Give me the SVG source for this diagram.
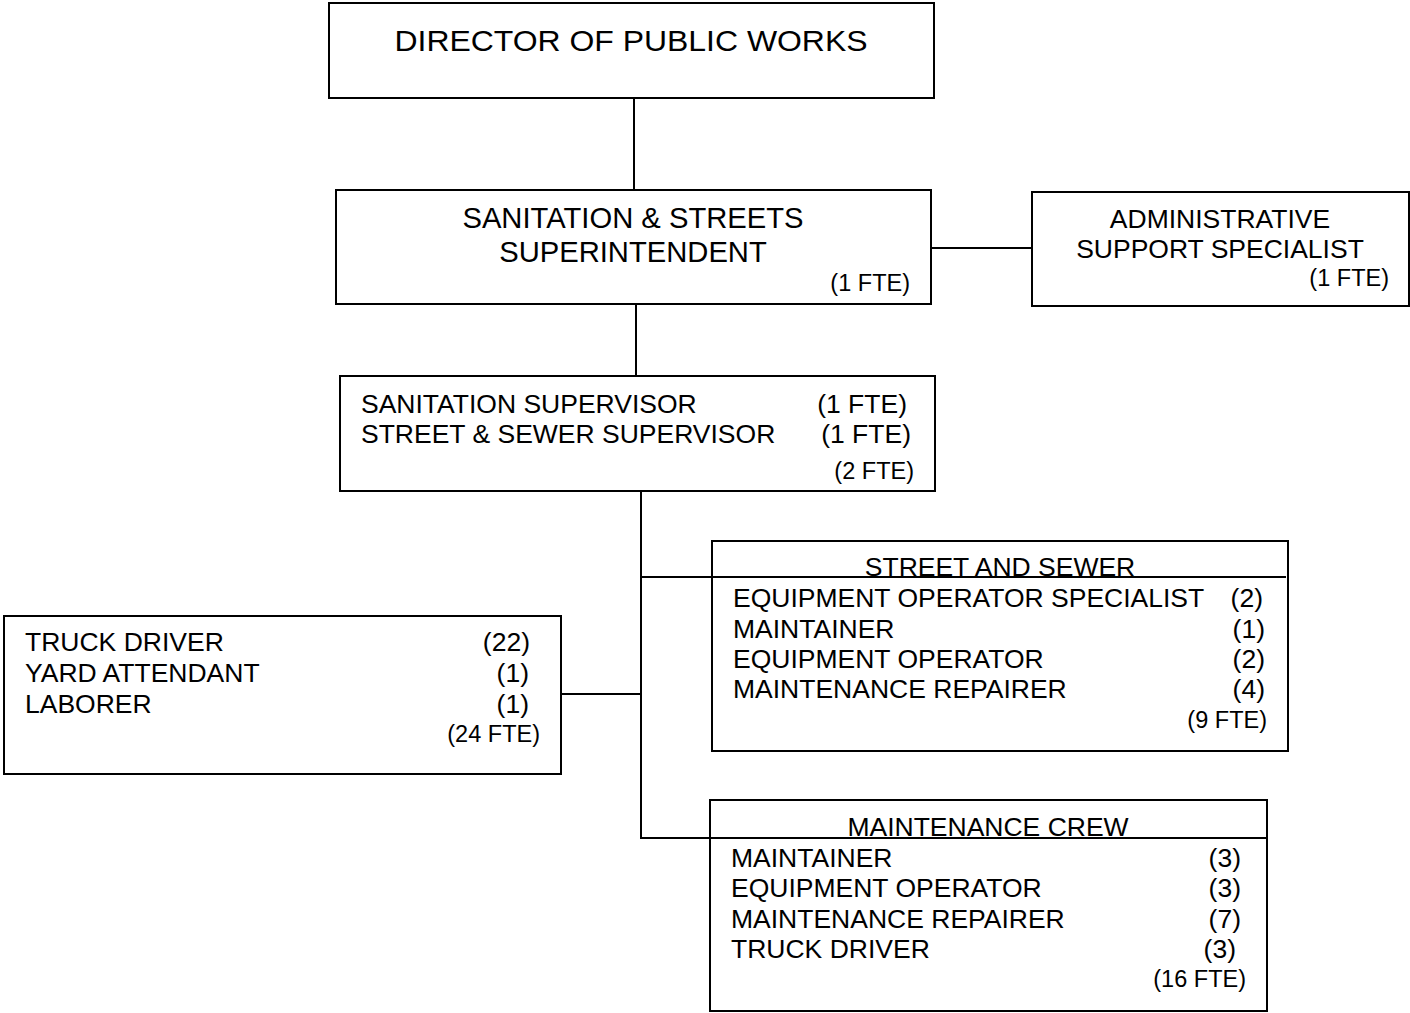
<svg xmlns="http://www.w3.org/2000/svg" width="1410" height="1013" viewBox="0 0 1410 1013">
<style>
  .box { fill: #ffffff; stroke: #000000; stroke-width: 2; }
  .con { fill: none; stroke: #000000; stroke-width: 2; }
  text { font-family: "Liberation Sans", Arial, sans-serif; fill: #000000; }
  .big { font-size: 29.2px; }
  .mid { font-size: 26.5px; }
  .sm { font-size: 23.5px; }
  .c { text-anchor: middle; }
  .r { text-anchor: end; }
</style>
<rect width="1410" height="1013" fill="#ffffff"/>
<g id="connectors">
  <line class="con" x1="634" y1="98" x2="634" y2="190"/>
  <line class="con" x1="931" y1="248" x2="1032" y2="248"/>
  <line class="con" x1="636" y1="304" x2="636" y2="376"/>
  <line class="con" x1="641" y1="491" x2="641" y2="839"/>
  <line class="con" x1="561" y1="694" x2="641" y2="694"/>
  <line class="con" x1="640" y1="577" x2="712" y2="577"/>
  <line class="con" x1="640" y1="838" x2="710" y2="838"/>
</g>
<g id="director">
  <rect class="box" x="329" y="3" width="605" height="95"/>
  <text class="c" x="631" y="51" font-size="30" textLength="473" lengthAdjust="spacingAndGlyphs">DIRECTOR OF PUBLIC WORKS</text>
</g>
<g id="superintendent">
  <rect class="box" x="336" y="190" width="595" height="114"/>
  <text class="big c" x="633" y="228">SANITATION &amp; STREETS</text>
  <text class="big c" x="633" y="262">SUPERINTENDENT</text>
  <text class="sm r" x="910" y="291">(1 FTE)</text>
</g>
<g id="admin">
  <rect class="box" x="1032" y="192" width="377" height="114"/>
  <text class="mid c" x="1220" y="228">ADMINISTRATIVE</text>
  <text class="mid c" x="1220" y="258">SUPPORT SPECIALIST</text>
  <text class="sm r" x="1389" y="286">(1 FTE)</text>
</g>
<g id="supervisors">
  <rect class="box" x="340" y="376" width="595" height="115"/>
  <text class="mid" x="361" y="413">SANITATION SUPERVISOR</text>
  <text class="mid r" x="907" y="413">(1 FTE)</text>
  <text class="mid" x="361" y="443">STREET &amp; SEWER SUPERVISOR</text>
  <text class="mid r" x="911" y="443">(1 FTE)</text>
  <text class="sm r" x="914" y="479">(2 FTE)</text>
</g>
<g id="sanitation-crew">
  <rect class="box" x="4" y="616" width="557" height="158"/>
  <text class="mid" x="25" y="651">TRUCK DRIVER</text>
  <text class="mid r" x="530" y="651">(22)</text>
  <text class="mid" x="25" y="682">YARD ATTENDANT</text>
  <text class="mid r" x="529" y="682">(1)</text>
  <text class="mid" x="25" y="713">LABORER</text>
  <text class="mid r" x="529" y="713">(1)</text>
  <text class="sm r" x="540" y="742">(24 FTE)</text>
</g>
<g id="street-and-sewer">
  <rect class="box" x="712" y="541" width="576" height="210"/>
  <line class="con" x1="712" y1="577" x2="1286" y2="577"/>
  <text class="mid c" x="1000" y="576">STREET AND SEWER</text>
  <text class="mid" x="733" y="607">EQUIPMENT OPERATOR SPECIALIST</text>
  <text class="mid r" x="1263" y="607">(2)</text>
  <text class="mid" x="733" y="638">MAINTAINER</text>
  <text class="mid r" x="1265" y="638">(1)</text>
  <text class="mid" x="733" y="668">EQUIPMENT OPERATOR</text>
  <text class="mid r" x="1265" y="668">(2)</text>
  <text class="mid" x="733" y="698">MAINTENANCE REPAIRER</text>
  <text class="mid r" x="1265" y="698">(4)</text>
  <text class="sm r" x="1267" y="728">(9 FTE)</text>
</g>
<g id="maintenance-crew">
  <rect class="box" x="710" y="800" width="557" height="211"/>
  <line class="con" x1="710" y1="838" x2="1266" y2="838"/>
  <text class="mid c" x="988" y="836">MAINTENANCE CREW</text>
  <text class="mid" x="731" y="867">MAINTAINER</text>
  <text class="mid r" x="1241" y="867">(3)</text>
  <text class="mid" x="731" y="897">EQUIPMENT OPERATOR</text>
  <text class="mid r" x="1241" y="897">(3)</text>
  <text class="mid" x="731" y="928">MAINTENANCE REPAIRER</text>
  <text class="mid r" x="1241" y="928">(7)</text>
  <text class="mid" x="731" y="958">TRUCK DRIVER</text>
  <text class="mid r" x="1236" y="958">(3)</text>
  <text class="sm r" x="1246" y="987">(16 FTE)</text>
</g>
</svg>
